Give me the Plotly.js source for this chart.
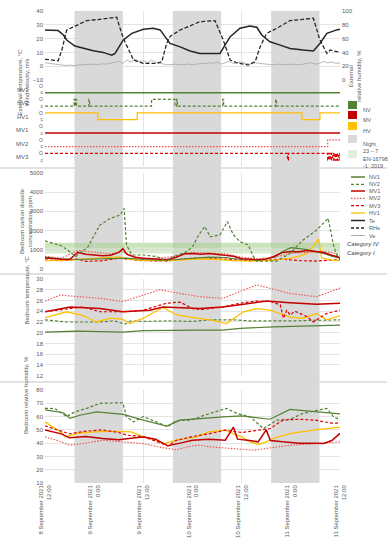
<!DOCTYPE html>
<html><head><meta charset="utf-8">
<script src="https://cdn.plot.ly/plotly-3.0.1.min.js"></script>
<style>html,body{margin:0;padding:0;background:#fff}#chart{width:392px;height:550px}</style>
</head><body><div id="chart"></div>
<script>
// ---------------- DATA (hours from 8 September 2021 12:00) ----------------
const tickHours = [0,12,24,36,48,60,72];
const tickLabels = ["8 September 2021<br>12:00","9 September 2021<br>0:00","9 September 2021<br>12:00",
  "10 September 2021<br>0:00","10 September 2021<br>12:00","11 September 2021<br>0:00","11 September 2021<br>12:00"];
const nightStart = [7.2, 31.2, 55.2];
const nightEnd   = [19, 43, 67];

// External conditions
const teH = [0,3.2,4.5,5.3,7.3,9.3,11.8,14.2,16.3,17.1,19.1,21.2,24,26.4,28.1,29.3,30.5,33,35.4,37.8,40.3,42.7,45.2,47.6,50,51.7,52.9,54.9,57.4,59.8,63,65.5,67.1,68.8,71.2,72];
const teV = [26.3,25.8,22.6,19,14.6,12.9,11.2,10,8,9.2,19,23.8,26.8,27.5,26.3,21.4,16.5,14,11,9.2,9.2,9.2,21.4,27.5,29.2,28.2,22.6,17.7,15.3,12.9,11.7,11,16.5,23.8,26.3,26.8];
const rheH = [0,3.2,4.1,5.3,7.3,10.2,13.4,17.5,18.7,19.5,21.6,24,27.3,28.5,29.7,30.5,33,36.2,37.8,41.5,43.5,45.2,46.8,49.6,51.3,52.5,54.1,56.6,59.8,63,65.5,67.1,68.8,69.6,71.2,72];
const rheV = [30,28,43,72.5,78,86,88,91,67.6,55.5,29,24,24,26.5,53,63,72.5,80,84.5,86,58,29,25,21.7,26.5,48,67.6,75,86,88,89.4,58,38.6,43.5,41,40];
const veV = [2.5,2.0,1.5,1.0,0.8,0.5,0.8,0.5,0.8,1.0,1.2,1.0,1.5,1.2,1.8,1.5,2.0,2.5,3.5,2.0,4.5,3.0,5.0,3.5,4.0,2.5,4.5,3.0,2.0,1.5,1.0,1.2,1.5,1.0,1.2,1.5,1.0,1.5,2.0,1.8,2.5,2.0,3.0,1.5,2.5,3.5,2.0,2.5,3.0,2.0,1.5,2.5,2.0,1.8,1.5,1.2,1.0,1.5,1.2,1.0,1.5,1.2,1.0,1.5,1.8,2.5,1.5,2.0,3.5,2.5,3.0,2.0,2.5];

// Window states (1 = open, 0 = closed)
const laneNames = ["NV1","NV2","HV1","MV1","MV2","MV3"];
const nv1StH = [0,72];            const nv1St = [0,0];
const nv2StH = [0,7.1,7.3,7.5,7.7,10.7,10.9,26,31.7,32.1,32.3,43.4,43.6,56.3,56.5,72];
const nv2St  = [0,1,0,1,0,1,0,1,0,1,0,1,0,1,0,0];
const hv1StH = [0,12.9,22.5,62.7,67.1,72]; const hv1St = [1,0,1,0,1,1];
const mv1StH = [0,72];            const mv1St = [0,0];
const mv2StH = [0,69,72];         const mv2St = [0,1,1];
const mv3StH = [0,59.2,59.4,69,69.3,69.6,69.9,70.2,70.5,70.8,71.1,71.4,71.7,72];
const mv3St  = [1,0,1,0,1,0,1,0,1,0,1,0,1,0];

// Bedroom CO2, ppm
const nv1CoH = [0,4,8,12,16,20,24,28,32,36,40,44,48,52,56,58,60,62,64,66,68,70,72];
const nv1Co  = [600,520,480,500,520,550,480,450,480,550,600,580,480,450,600,900,1100,1050,1000,900,800,650,550];
const nv2CoH = [0,2,4,6,7.5,9,10.3,11.8,13.4,15.9,18.3,19.3,19.9,21.2,24,27.3,29.7,31.3,34.6,36,37.5,39,40.3,42.7,44.5,46,47.6,49.6,50.9,51.7,56.6,59.8,63,66.3,69.1,70.4,71.2,72];
const nv2Co  = [1450,1330,1200,900,630,925,1065,1670,2280,2630,2800,3150,1240,715,715,630,400,630,890,1150,1760,2200,1670,1760,2460,1760,1410,1240,630,400,400,800,1500,2020,2630,1240,715,540];
const mv1CoH = [0,2,4,6,8,10,12,14,16,18,19,20,22,24,28,30,32,34,36,38,40,42,44,46,48,50,52,54,56,58,60,62,64,66,68,70,72];
const mv1Co  = [560,520,500,480,850,750,700,680,700,850,1050,750,600,550,500,480,600,780,800,760,800,750,720,650,520,480,470,500,650,850,900,880,950,900,850,700,580];
const mv2CoH = [0,4,8,12,16,19,22,26,32,36,40,44,48,52,56,60,64,68,70,72];
const mv2Co  = [650,550,950,850,780,900,600,520,650,850,820,780,600,520,600,800,850,900,850,700];
const mv3CoH = [0,4,8,10,14,18,20,24,30,34,38,42,46,50,54,58,62,66,70,72];
const mv3Co  = [450,420,500,380,420,550,500,420,400,520,560,520,450,420,450,500,420,400,450,480];
const hv1CoH = [0,4,8,12,16,18,20,24,30,34,38,42,46,50,56,60,62,64,65.5,66.8,67.5,70,72];
const hv1Co  = [420,430,480,550,600,620,520,430,420,480,520,480,420,400,450,550,650,800,1200,1550,560,450,420];
const enLow = 800, enMid = 1100, enHigh = 1350;

// Bedroom temperature, °C
const nv1TH = [0,7.7,19,24,37.8,43.4,47.6,55.7,72];
const nv1T  = [20.1,20.3,20.1,20.4,20.5,20.5,20.8,21.1,21.4];
const nv2TH = [0,5,13,17,19.5,21,24,30,36,40,46,50,60,68,72];
const nv2T  = [22.4,22,22,22.2,21.6,22.2,22.1,22.2,22.1,22.4,22.4,22.2,22.2,22.4,22.4];
const mv1TH = [0,6.1,13.4,19,25.6,28.8,37.8,43.4,47.6,54.1,59.8,66.3,72];
const mv1T  = [23.9,24.8,24.5,23.9,24.2,24.8,24.5,24.8,25.2,25.9,25.6,25.3,25.5];
const mv2TH = [0,3.7,13.4,19,24,28,33,37.8,43.4,51.7,59.8,66.3,72];
const mv2T  = [25.9,27,26.4,25.8,27,28,27.3,26.7,26.4,28.9,27.3,26.7,28.3];
const mv3TH = [0,6,9.3,13.4,19,24,29.7,33,36,38,43.4,47.6,51.7,55,57.4,58.2,59,59.8,61,63.9,65.5,68.8,72];
const mv3T  = [23.9,24.5,24.8,23.9,23.9,24.2,25.5,25.7,24.5,24.3,24.8,25.5,25.9,25.8,25.2,22.7,24.2,23.3,24,23,22,23.6,24.2];
const hv1TH = [0,5.3,9.3,12.6,15.9,19,20.7,24,28.8,32.1,35.4,37.8,40.3,44.3,48.4,51.7,54.9,59.8,63,66.3,68.8,72];
const hv1T  = [22.8,23.9,23.2,22,22.7,22.5,21.7,22.7,24.7,23.3,22.9,22.7,22.4,21.7,23.9,24.5,24.2,22.9,22.7,23.6,22.4,23.2];

// Bedroom relative humidity, %
const nv1RhH = [0,4.5,6.1,8.5,12.6,19.1,24,29.7,33,37.8,43.4,48,54.9,59.8,66.3,72];
const nv1Rh  = [65,62.9,58.6,61,63.6,61.6,57.3,52.8,57.3,58.6,59.7,60.5,58,65.4,63.6,62];
const nv2RhH = [0,2.4,5.3,7.3,10.2,13.4,19,19.9,21.6,24,28.1,30,32,35.4,40.3,44.3,46.8,50,53.3,56.6,59.8,63,68.8,70.4,72];
const nv2Rh  = [66.2,66,60,63.6,66.2,70,70.4,59.8,56,60,54.8,52.3,57,57.3,62.4,66.2,62.4,60,51,57.3,58,62.4,66.2,60,57.3];
const mv1RhH = [0,4,6,10,14,18,22,24,27,30,33,36,40,44,46,47,50,52,54,55,58,62,66,68,70,72];
const mv1Rh  = [50,47,44,45,43.5,42.5,44,44.7,43,38,40,42.2,43,42.2,52,43,42,41,50,42,41,40,40,39.7,42,47.3];
const mv2RhH = [0,3,6,10,14,18,22,24,28,30,32,36,38,40,46,51,54,60,66,72];
const mv2Rh  = [44.7,42,38.5,40,42.2,41,40,39.7,37,36,35,38,38.5,37.3,36,34.7,36,38.5,39.5,41];
const mv3RhH = [0,3,6,10,14,18,20,24,28,30,32,36,40,44,48,52,55,58,62,66,70,72];
const mv3Rh  = [53,50,47,49,50,48,46,45,40,38,42,45,47,49.8,48,50,51,57.3,58,57.3,55,55];
const hv1RhH = [0,2,4,5,8,12,16,21,24,27,29,32,37,40,44,46,48,50,52,54,56,60,66,72];
const hv1Rh  = [56,52,48,44.7,47.3,48.5,49,48.5,44.7,42.2,39.7,42.2,44.7,48.5,49.8,47,44.7,41,39,41,44,47.3,50,52];

// ---------------- STYLE / LAYOUT ----------------
const FONT = 'Liberation Sans, Arial, sans-serif';
const TXT = '#595959';
const GRID = '#D9D9D9';
const GREEN = '#548235', RED = '#C00000', RED2 = '#F05050', RED3 = '#E00000', YEL = '#FFC000';
const ML = 45, MR = 52, MT = 11, MB = 67, W = 392, H = 550;
const PW = W - ML - MR, PH = H - MT - MB;
const px2x = p => (p - ML) / PW;
const py2y = p => (H - MB - p) / PH;

const veH = veV.map((_, i) => i);

function ln(x, y, ax, color, width, dash, shape) {
  return {type:'scatter', mode:'lines', x:x, y:y, yaxis:ax,
    line:{color:color, width:width, dash:dash||'solid', shape:shape||'linear'},
    hoverinfo:'skip', showlegend:false};
}
const laneBase = {NV1:10, NV2:8, HV1:6, MV1:4, MV2:2, MV3:0};
const lanePos = (name, st) => st.map(s => laneBase[name] + s);

const traces = [
  ln(veH, veV, 'y', '#A6A6A6', 0.8),
  ln(teH, teV, 'y', '#262626', 1.5),
  ln(rheH, rheV, 'y2', '#262626', 1.3, '4px,2px'),
  ln(nv1StH, lanePos('NV1', nv1St), 'y3', GREEN, 1.5, 'solid', 'hv'),
  ln(nv2StH, lanePos('NV2', nv2St), 'y3', GREEN, 1.2, '3px,2px', 'hv'),
  ln(hv1StH, lanePos('HV1', hv1St), 'y3', YEL, 1.3, 'solid', 'hv'),
  ln(mv1StH, lanePos('MV1', mv1St), 'y3', RED, 1.5, 'solid', 'hv'),
  ln(mv2StH, lanePos('MV2', mv2St), 'y3', RED2, 1.2, '1.5px,1.5px', 'hv'),
  ln(mv3StH, lanePos('MV3', mv3St), 'y3', RED3, 1.3, '3px,2px', 'hv'),
  ln(mv3CoH, mv3Co, 'y4', RED3, 1.2, '3px,2px'),
  ln(hv1CoH, hv1Co, 'y4', YEL, 1.3),
  ln(mv2CoH, mv2Co, 'y4', RED2, 1.1, '1.5px,1.5px'),
  ln(nv1CoH, nv1Co, 'y4', GREEN, 1.2),
  ln(mv1CoH, mv1Co, 'y4', RED, 1.5),
  ln(nv2CoH, nv2Co, 'y4', GREEN, 1.2, '3px,2px'),
  ln(nv1TH, nv1T, 'y5', GREEN, 1.2),
  ln(nv2TH, nv2T, 'y5', GREEN, 1.2, '3px,2px'),
  ln(hv1TH, hv1T, 'y5', YEL, 1.3),
  ln(mv2TH, mv2T, 'y5', RED2, 1.1, '1.5px,1.5px'),
  ln(mv1TH, mv1T, 'y5', RED, 1.5),
  ln(mv3TH, mv3T, 'y5', RED3, 1.2, '3px,2px'),
  ln(nv1RhH, nv1Rh, 'y6', GREEN, 1.2),
  ln(nv2RhH, nv2Rh, 'y6', GREEN, 1.2, '3px,2px'),
  ln(mv2RhH, mv2Rh, 'y6', RED2, 1.1, '1.5px,1.5px'),
  ln(hv1RhH, hv1Rh, 'y6', YEL, 1.3),
  ln(mv1RhH, mv1Rh, 'y6', RED, 1.5),
  ln(mv3RhH, mv3Rh, 'y6', RED3, 1.2, '3px,2px')
];

const tf = {family:FONT, size:6, color:TXT};
function yax(top, bottom, range, dtick, extra) {
  return Object.assign({domain:[py2y(bottom), py2y(top)], range:range, dtick:dtick,
    showgrid:true, gridcolor:GRID, gridwidth:0.7, zeroline:false, showline:false,
    ticks:'', tickfont:tf, ticklen:0, ticklabelstandoff:1, fixedrange:true}, extra||{});
}

const laneTickVals = [], laneTickText = [];
for (let v = 0; v <= 11; v++) { laneTickVals.push(v); laneTickText.push(v % 2 ? 'O' : 'c'); }

const shapes = [];
nightStart.forEach((s, i) => shapes.push({type:'rect', xref:'x', yref:'paper', x0:s, x1:nightEnd[i], y0:0, y1:1,
  fillcolor:'#D9D9D9', line:{width:0}, layer:'below'}));
shapes.push({type:'rect', xref:'x', yref:'y4', x0:0, x1:72, y0:enLow, y1:enMid, fillcolor:'rgba(197,224,180,0.65)', line:{width:0}, layer:'below'});
shapes.push({type:'rect', xref:'x', yref:'y4', x0:0, x1:72, y0:enMid, y1:enHigh, fillcolor:'rgba(169,208,142,0.6)', line:{width:0}, layer:'below'});
[168, 274, 382].forEach(p => shapes.push({type:'line', xref:'paper', yref:'paper', x0:px2x(0), x1:px2x(387), y0:py2y(p), y1:py2y(p),
  line:{color:GRID, width:1.5}}));

const annotations = [];
function ann(text, x, y, opts) {
  annotations.push(Object.assign({text:text, xref:'paper', yref:'paper', x:x, y:y, showarrow:false,
    font:{family:FONT, size:6, color:TXT}}, opts||{}));
}
// axis titles
ann('External temperature, °C<br>Wind velocity, m/s', px2x(14), py2y(47), {textangle:-90});
ann('External<br>relative humidity, %', px2x(364), py2y(48), {textangle:-90});
ann('Bedroom carbon dioxide<br>concentration, ppm', px2x(17), py2y(221), {textangle:-90});
ann('Bedroom temperature, °C', px2x(21), py2y(327), {textangle:-90});
ann('Bedroom relative humidity, %', px2x(21), py2y(436), {textangle:-90});
// lane names
laneNames.forEach(n => annotations.push({text:n, xref:'paper', yref:'y3', x:px2x(31), y:laneBase[n] + 0.45,
  xanchor:'right', showarrow:false, font:{family:FONT, size:6, color:TXT}}));
// category labels
annotations.push({text:'<i>Category IV</i>', xref:'paper', yref:'y4', x:px2x(345), y:1300, xanchor:'left', showarrow:false, font:{family:FONT, size:6, color:'#404040'}});
annotations.push({text:'<i>Category I</i>', xref:'paper', yref:'y4', x:px2x(345), y:820, xanchor:'left', showarrow:false, font:{family:FONT, size:6, color:'#404040'}});

// legend of window types / night / standard
const boxLegend = [
  ['NV', GREEN, 105], ['MV', RED, 115], ['HV', YEL, 126],
  ['Night<br>23 – 7', '#D9D9D9', 139], ['EN-16798<br>-1: 2019', '#E2EFDA', 154]
];
boxLegend.forEach(b => {
  shapes.push({type:'rect', xref:'paper', yref:'paper', x0:px2x(348), x1:px2x(357), y0:py2y(b[2]+4), y1:py2y(b[2]-4),
    fillcolor:b[1], line:{width:0}});
  ann(b[0], px2x(361), py2y(b[2]), {xanchor:'left', align:'left', font:{family:FONT, size:5.5, color:TXT}});
});
// legend of series
const lineLegend = [
  ['NV1', GREEN, 'solid', 1.5, 177], ['NV2', GREEN, '3px,2px', 1.2, 184.3], ['MV1', RED, 'solid', 1.5, 191],
  ['MV2', RED2, '1.5px,1.5px', 1.2, 198.3], ['MV3', RED3, '3px,2px', 1.3, 205.7], ['HV1', YEL, 'solid', 1.3, 213],
  ['Te', '#262626', 'solid', 1.5, 220.5], ['RHe', '#262626', '3px,2px', 1.4, 228], ['Ve', '#A6A6A6', 'solid', 0.9, 235.5]
];
lineLegend.forEach(l => {
  shapes.push({type:'line', xref:'paper', yref:'paper', x0:px2x(351), x1:px2x(365), y0:py2y(l[4]), y1:py2y(l[4]),
    line:{color:l[1], width:l[3], dash:l[2]}});
  ann(l[0], px2x(367), py2y(l[4]), {xanchor:'left', font:{family:FONT, size:5.5, color:TXT}});
});

const layout = {
  width:W, height:H, margin:{l:ML, r:MR, t:MT, b:MB, pad:0},
  paper_bgcolor:'#ffffff', plot_bgcolor:'rgba(0,0,0,0)', showlegend:false,
  font:{family:FONT, size:6, color:TXT},
  xaxis:{range:[0,72], tickvals:tickHours, ticktext:tickLabels, tickangle:-90, tickfont:tf,
    showgrid:true, gridcolor:GRID, gridwidth:0.7, zeroline:false, showline:false, ticks:'', anchor:'y6', fixedrange:true},
  yaxis: yax(11, 80, [-10,40], 10),
  yaxis2:{overlaying:'y', side:'right', range:[0,100], dtick:20, showgrid:false, zeroline:false, showline:false,
    tickfont:tf, ticks:'', ticklabelstandoff:1, fixedrange:true},
  yaxis3: yax(80, 166, [-0.89, 11.89], 1, {tickvals:laneTickVals, ticktext:laneTickText, showgrid:false,
    tickfont:{family:FONT, size:5, color:TXT}}),
  yaxis4: yax(173, 268.7, [0,5000], 1000),
  yaxis5: yax(279, 375.7, [12,30], 2),
  yaxis6: yax(390, 483, [10,80], 10),
  shapes:shapes, annotations:annotations
};
Plotly.newPlot('chart', traces, layout, {displayModeBar:false, staticPlot:true});
</script>
</body></html>
